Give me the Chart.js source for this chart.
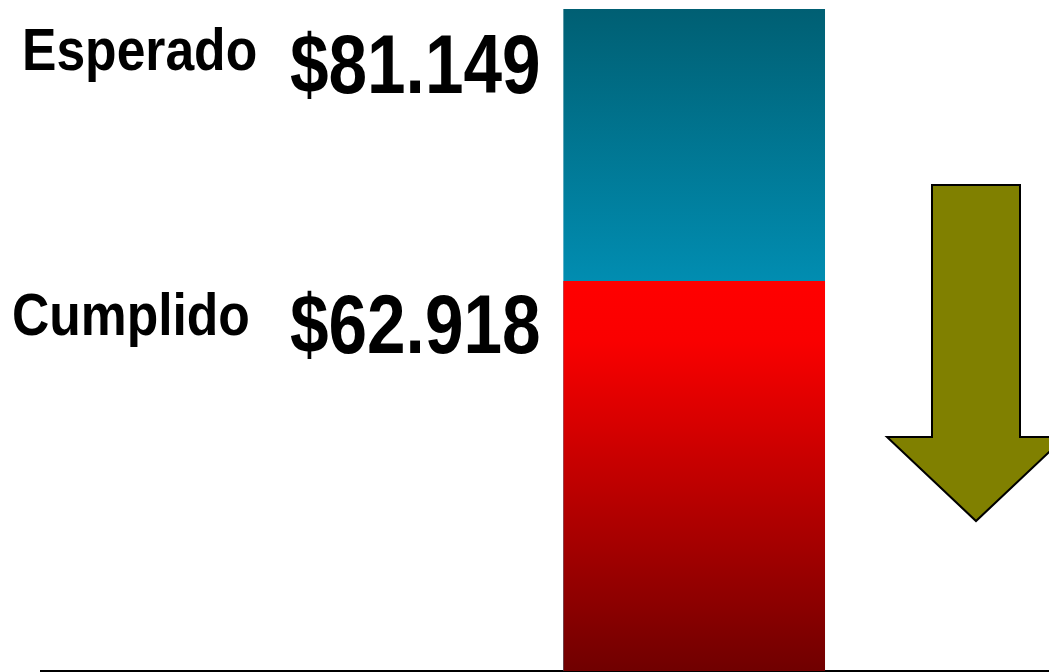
<!DOCTYPE html>
<html lang="es">
<head>
<meta charset="utf-8">
<title>Esperado vs Cumplido</title>
<script src="https://cdn.jsdelivr.net/npm/chart.js@4.4.0/dist/chart.umd.min.js"></script>
<style>
    html, body { margin: 0; padding: 0; background: #fff; }
    .container { width: 1049px; height: 672px; position: relative; }
</style>
</head>
<body>
<div class="container"><canvas id="myChart"></canvas></div>
<script>
// datos
const seriesNames = ["Cumplido", "Esperado"];
const cumplido = [62918];
const esperado = [81149];
const valueLabels = ["$62.918", "$81.149"];
const barX = [64.8];

const toPoints = (arr) => arr.map((v, i) => ({ x: barX[i], y: v }));

// gradiente vertical entre dos valores del eje y
function barGradient(context, fromValue, toValue, stops) {
    const chart = context.chart;
    if (!chart.chartArea) return stops[0][1];
    const y = chart.scales.y;
    const top = y.getPixelForValue(fromValue);
    const bottom = Math.min(y.getPixelForValue(toValue), chart.chartArea.bottom);
    const g = chart.ctx.createLinearGradient(0, top, 0, bottom);
    stops.forEach(s => g.addColorStop(s[0], s[1]));
    return g;
}

function drawNarrow(ctx, text, x, y, font, sx) {
    ctx.save();
    ctx.font = font;
    ctx.translate(x, y);
    ctx.scale(sx, 1);
    ctx.fillText(text, 0, 0);
    ctx.restore();
}

const textos = {
    id: "textos",
    afterDraw(chart) {
        const ctx = chart.ctx;
        ctx.save();
        ctx.fillStyle = "#000";
        ctx.textBaseline = "alphabetic";
        ctx.textAlign = "left";

        drawNarrow(ctx, seriesNames[1], 22, 70, "bold 60px 'Liberation Sans'", 0.86);
        drawNarrow(ctx, valueLabels[1], 290, 93, "bold 84px 'Liberation Sans'", 0.825);
        drawNarrow(ctx, seriesNames[0], 12, 335, "bold 60px 'Liberation Sans'", 0.86);
        drawNarrow(ctx, valueLabels[0], 290, 353, "bold 84px 'Liberation Sans'", 0.825);

        // flecha hacia abajo
        ctx.beginPath();
        ctx.moveTo(932, 185);
        ctx.lineTo(1020, 185);
        ctx.lineTo(1020, 437);
        ctx.lineTo(1065, 437);
        ctx.lineTo(976, 521);
        ctx.lineTo(887, 437);
        ctx.lineTo(932, 437);
        ctx.closePath();
        ctx.fillStyle = "#808000";
        ctx.fill();
        ctx.lineWidth = 2;
        ctx.strokeStyle = "#000";
        ctx.stroke();
        ctx.restore();
    }
};

const ctx = document.getElementById("myChart").getContext("2d");

new Chart(ctx, {
    type: "bar",
    plugins: [textos],
    data: {
        datasets: [
            {
                label: seriesNames[0],
                data: toPoints(cumplido),
                grouped: false,
                barThickness: 261,
                borderWidth: 0,
                backgroundColor: (c) => barGradient(c, cumplido[0], 0, [
                    [0, "#ff0000"], [0.15, "#fa0000"], [1, "#700000"]
                ])
            },
            {
                label: seriesNames[1],
                data: toPoints(esperado),
                grouped: false,
                barThickness: 261,
                borderWidth: 0,
                backgroundColor: (c) => barGradient(c, esperado[0], cumplido[0], [
                    [0, "#005f73"], [1, "#018db1"]
                ])
            }
        ]
    },
    options: {
        responsive: true,
        maintainAspectRatio: false,
        animation: false,
        layout: {
            padding: { left: 41, top: 9, right: 0, bottom: 1 }
        },
        plugins: {
            legend: { display: false },
            tooltip: { enabled: false },
            title: { display: false }
        },
        scales: {
            x: {
                type: "linear",
                min: 0,
                max: 100,
                offset: false,
                grid: { display: false, drawTicks: false },
                ticks: { display: false },
                border: { display: true, color: "#000", width: 2 }
            },
            y: {
                display: false,
                min: 36845,
                max: 81149
            }
        }
    }
});
</script>
</body>
</html>
